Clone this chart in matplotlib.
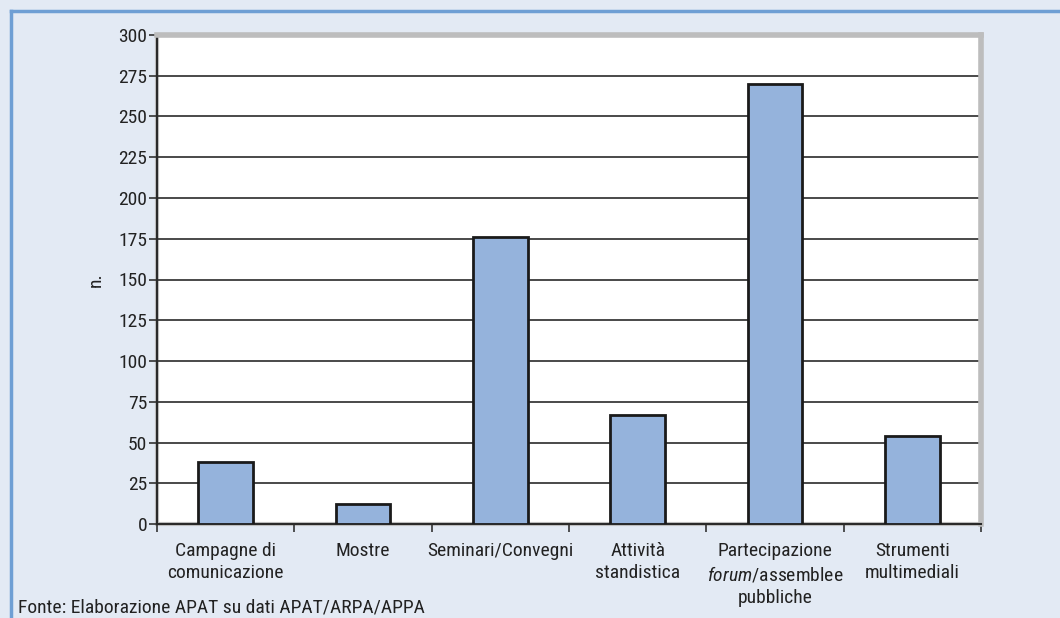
import matplotlib.pyplot as plt
from matplotlib.lines import Line2D
from matplotlib.patches import Rectangle
from matplotlib import font_manager
import numpy as np

# --- data ---
categories = [
    "Campagne di\ncomunicazione",
    "Mostre",
    "Seminari/Convegni",
    "Attività\nstandistica",
    "Partecipazione\n$\\it{forum}$/assemblee\npubbliche",
    "Strumenti\nmultimediali",
]
values = [38, 12, 176, 67, 270, 54]
y_ticks = list(range(0, 301, 25))

BG = "#e3eaf4"
BAR = "#95b3dc"
FRAME = "#6f9fd4"
TXT = "#222222"

# pick a narrow sans if one is installed, otherwise Roboto
installed = {f.name for f in font_manager.fontManager.ttflist}
family = "Roboto"
for cand in ("Liberation Sans Narrow", "Roboto Condensed", "Open Sans Condensed", "Arial Narrow"):
    if cand in installed:
        family = cand
        break

plt.rcParams["font.family"] = [family, "DejaVu Sans"]
plt.rcParams["mathtext.fontset"] = "custom"
plt.rcParams["mathtext.it"] = family + ":italic"
plt.rcParams["mathtext.rm"] = family
FS = 14

W, H = 1060, 618
fig = plt.figure(figsize=(W / 100, H / 100), dpi=100, facecolor=BG)
ax = fig.add_axes([157 / W, 1 - 524 / H, (981 - 157) / W, (524 - 35) / H])
ax.set_facecolor("white")

x = np.arange(len(categories))
ax.bar(x, values, width=0.4, color=BAR, edgecolor="#1a1a1a", linewidth=2, zorder=3)

ax.set_xlim(-0.5, len(categories) - 0.5)
ax.set_ylim(0, 300)
ax.set_yticks(y_ticks)
ax.yaxis.grid(True, color="#3a3a3a", linewidth=1.3, zorder=1)
ax.set_axisbelow(True)

# category boundaries carry the x tick marks
ax.set_xticks(np.arange(len(categories) + 1) - 0.5)
ax.set_xticklabels([])
ax.set_xticks(x, minor=True)
ax.set_xticklabels(categories, minor=True, fontsize=FS, color=TXT, linespacing=1.3)
ax.tick_params(axis="x", which="minor", length=0, pad=13)
ax.tick_params(axis="x", which="major", length=6, width=1.2, color="#333333")
ax.tick_params(axis="y", length=6, width=1.2, color="#333333", labelsize=FS,
               labelcolor=TXT, pad=1)

for s in ("top", "right"):
    ax.spines[s].set_color("#bdbdbd")
    ax.spines[s].set_linewidth(4)
for s in ("left", "bottom"):
    ax.spines[s].set_color("#2a2a2a")
    ax.spines[s].set_linewidth(1.5)

# light grey frame of the plot area
ax.add_patch(Rectangle((0, 0), 1, 1, transform=ax.transAxes, fill=False,
                       edgecolor="#c4c4c4", linewidth=3, zorder=0.5, clip_on=False))

ax.set_ylabel("n.", fontsize=FS, color=TXT, labelpad=10)

# panel border along top and left edge
fig.add_artist(Line2D([11 / W, 1], [1 - 11 / H, 1 - 11 / H], color=FRAME, linewidth=2.5))
fig.add_artist(Line2D([11 / W, 11 / W], [0, 1 - 11 / H], color=FRAME, linewidth=2.5))

fig.text(18 / W, 1 - 607 / H, "Fonte: Elaborazione APAT su dati APAT/ARPA/APPA",
         fontsize=FS, color=TXT, va="center", ha="left")

fig.savefig("out.png", dpi=100, facecolor=BG)
